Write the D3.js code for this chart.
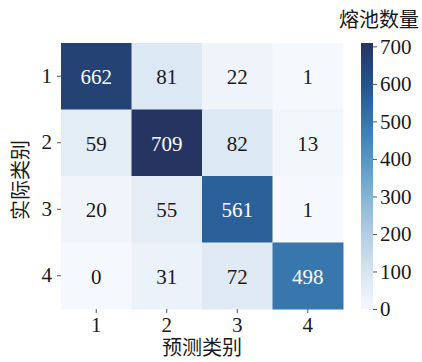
<!DOCTYPE html>
<html>
<head>
<meta charset="utf-8">
<script src="https://cdn.jsdelivr.net/npm/d3@7"></script>
<style>
  html, body { margin: 0; padding: 0; background: #fff; }
  text { font-family: "Liberation Serif", "Times New Roman", "Noto Sans CJK SC", serif; }
</style>
</head>
<body>
<svg id="chart" width="422" height="362"></svg>
<script>
// Confusion matrix of melt-pool classification
const predictedLabels = ["1", "2", "3", "4"];
const actualLabels = ["1", "2", "3", "4"];
const matrix = [
  [662, 81, 22, 1],
  [59, 709, 82, 13],
  [20, 55, 561, 1],
  [0, 31, 72, 498]
];
const colorbarTicks = [0, 100, 200, 300, 400, 500, 600, 700];
const colorStops = [0, 100, 200, 300, 400, 500, 600, 709];
const colorRange = ["#f5f9fd", "#d6e4f1", "#b3cde3", "#86b5d4", "#5496c4", "#3676ad", "#22548c", "#263462"];

const svg = d3.select("#chart");
const plot = { left: 61, right: 343, top: 43, bottom: 309 };
const bar = { left: 361, right: 373 };
const serif = '"Liberation Serif", "Times New Roman", serif';

const x = d3.scaleBand().domain(predictedLabels).range([plot.left, plot.right]);
const y = d3.scaleBand().domain(actualLabels).range([plot.top, plot.bottom]);
const vmax = d3.max(matrix.flat());
const color = d3.scaleLinear().domain(colorStops).range(colorRange).interpolate(d3.interpolateRgb).clamp(true);

const cells = [];
matrix.forEach((row, i) => row.forEach((v, j) => cells.push({ r: actualLabels[i], c: predictedLabels[j], v })));

svg.append("g").selectAll("rect").data(cells).join("rect")
  .attr("x", d => x(d.c))
  .attr("y", d => y(d.r))
  .attr("width", x.bandwidth() + 0.5)
  .attr("height", y.bandwidth() + 0.5)
  .attr("fill", d => color(d.v));

svg.append("g").selectAll("text").data(cells).join("text")
  .attr("x", d => x(d.c) + x.bandwidth() / 2)
  .attr("y", d => y(d.r) + y.bandwidth() / 2 + 1)
  .attr("text-anchor", "middle")
  .attr("dominant-baseline", "central")
  .attr("font-size", 21)
  .style("font-family", serif)
  .attr("fill", d => d.v > vmax / 2 ? "#ffffff" : "#1a1a1a")
  .text(d => d.v);

// Axes
const xAxis = svg.append("g")
  .attr("transform", `translate(0,${plot.bottom})`)
  .call(d3.axisBottom(x).tickSize(4).tickPadding(4));
const yAxis = svg.append("g")
  .attr("transform", `translate(${plot.left},0)`)
  .call(d3.axisLeft(y).tickSize(4).tickPadding(5));
[xAxis, yAxis].forEach(a => {
  a.select(".domain").remove();
  a.selectAll(".tick line").attr("stroke", "#555").attr("stroke-width", 1);
  a.selectAll(".tick text").attr("font-size", 21).attr("fill", "#1a1a1a")
    .style("font-family", serif);
});

svg.append("text")
  .attr("x", (plot.left + plot.right) / 2)
  .attr("y", 355)
  .attr("text-anchor", "middle")
  .attr("font-size", 20)
  .attr("fill", "#1a1a1a")
  .text("预测类别");

svg.append("text")
  .attr("transform", `translate(28,${(plot.top + plot.bottom) / 2 + 4}) rotate(-90)`)
  .attr("text-anchor", "middle")
  .attr("font-size", 20)
  .attr("fill", "#1a1a1a")
  .text("实际类别");

// Colorbar
const cb = d3.scaleLinear().domain([0, vmax]).range([plot.bottom, plot.top]);
const defs = svg.append("defs");
const grad = defs.append("linearGradient").attr("id", "cbgrad")
  .attr("x1", 0).attr("y1", 1).attr("x2", 0).attr("y2", 0);
d3.range(0, 1.0001, 0.05).forEach(t => {
  grad.append("stop").attr("offset", t).attr("stop-color", color(t * vmax));
});
svg.append("rect")
  .attr("x", bar.left).attr("y", plot.top)
  .attr("width", bar.right - bar.left).attr("height", plot.bottom - plot.top)
  .attr("fill", "url(#cbgrad)");

const cAxis = svg.append("g")
  .attr("transform", `translate(${bar.right},0)`)
  .call(d3.axisRight(cb).tickValues(colorbarTicks).tickSize(4).tickPadding(3));
cAxis.select(".domain").remove();
cAxis.selectAll(".tick line").attr("stroke", "#555");
cAxis.selectAll(".tick text").attr("font-size", 21).attr("fill", "#1a1a1a")
  .style("font-family", serif);

svg.append("text")
  .attr("x", 379)
  .attr("y", 27)
  .attr("text-anchor", "middle")
  .attr("font-size", 20)
  .attr("fill", "#1a1a1a")
  .text("熔池数量");
</script>
</body>
</html>
